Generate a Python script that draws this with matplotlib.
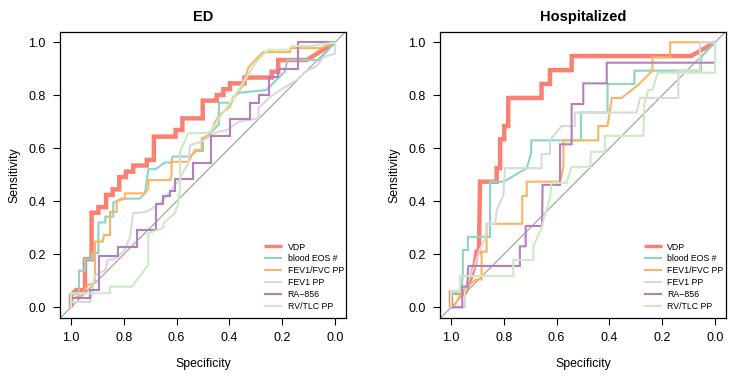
import matplotlib
matplotlib.use("Agg")
import matplotlib.pyplot as plt

plt.rcParams['font.family'] = ['Liberation Sans', 'DejaVu Sans']

SERIES = ["VDP", "blood EOS #", "FEV1/FVC PP", "FEV1 PP", "RA\u2212856", "RV/TLC PP"]
COLORS = ["#FB8072", "#8DD3C7", "#FDB462", "#D9D9D9", "#B57EC0", "#CCEBC5"]
WIDTHS = [3.2, 1.5, 1.5, 1.5, 1.5, 1.5]
TICKS = [1.0, 0.8, 0.6, 0.4, 0.2, 0.0]
TICK_LABELS = ["1.0", "0.8", "0.6", "0.4", "0.2", "0.0"]
YTICKS = [0.0, 0.2, 0.4, 0.6, 0.8, 1.0]

# ---------------- ED panel ----------------
ED_VDP_SPEC = [1.0, 1.0, 0.98, 0.947, 0.947, 0.922, 0.922, 0.896, 0.896, 0.867, 0.867, 0.842, 0.842,
               0.817, 0.817, 0.792, 0.792, 0.764, 0.764, 0.713, 0.713, 0.686, 0.686, 0.604, 0.604,
               0.578, 0.578, 0.501, 0.501, 0.448, 0.448, 0.423, 0.423, 0.398, 0.398, 0.343, 0.343,
               0.240, 0.240, 0.215, 0.215, 0.107, 0.0]
ED_VDP_SENS = [0.0, 0.045, 0.065, 0.065, 0.181, 0.181, 0.357, 0.357, 0.378, 0.378, 0.424, 0.424, 0.445,
               0.445, 0.491, 0.491, 0.512, 0.512, 0.535, 0.535, 0.556, 0.556, 0.644, 0.644, 0.669,
               0.669, 0.713, 0.713, 0.780, 0.780, 0.801, 0.801, 0.823, 0.823, 0.845, 0.845, 0.867,
               0.867, 0.889, 0.889, 0.933, 0.933, 1.0]

ED_EOS_SPEC = [1.0, 1.0, 0.97, 0.97, 0.947, 0.947, 0.92, 0.92, 0.896, 0.896, 0.87, 0.87, 0.84, 0.84,
               0.81, 0.74, 0.72, 0.707, 0.68, 0.645, 0.62, 0.615, 0.55, 0.524, 0.50, 0.50, 0.47, 0.44,
               0.44, 0.395, 0.385, 0.36, 0.26, 0.24, 0.21, 0.19, 0.18, 0.06, 0.0]
ED_EOS_SENS = [0.0, 0.05, 0.05, 0.138, 0.138, 0.181, 0.181, 0.205, 0.205, 0.32, 0.32, 0.342, 0.342,
               0.395, 0.41, 0.41, 0.43, 0.521, 0.521, 0.546, 0.546, 0.569, 0.569, 0.59, 0.59, 0.63,
               0.66, 0.69, 0.772, 0.772, 0.795, 0.81, 0.82, 0.84, 0.87, 0.89, 0.933, 0.933, 1.0]

ED_FVC_SPEC = [1.0, 1.0, 0.96, 0.935, 0.915, 0.909, 0.909, 0.88, 0.875, 0.852, 0.852, 0.827, 0.827,
               0.795, 0.795, 0.777, 0.72, 0.707, 0.707, 0.625, 0.619, 0.619, 0.556, 0.53, 0.505,
               0.505, 0.473, 0.455, 0.43, 0.398, 0.385, 0.347, 0.328, 0.297, 0.272, 0.17, 0.17,
               0.055, 0.0]
ED_FVC_SENS = [0.0, 0.03, 0.046, 0.084, 0.09, 0.10, 0.248, 0.248, 0.273, 0.273, 0.36, 0.36, 0.40,
               0.41, 0.43, 0.43, 0.43, 0.449, 0.48, 0.48, 0.499, 0.549, 0.549, 0.594, 0.594, 0.638,
               0.65, 0.70, 0.732, 0.757, 0.789, 0.839, 0.905, 0.938, 0.963, 0.963, 0.978, 0.978, 1.0]

ED_FEV1_SPEC = [1.0, 1.0, 0.928, 0.92, 0.91, 0.87, 0.86, 0.84, 0.80, 0.776, 0.765, 0.715, 0.682,
                0.65, 0.60, 0.556, 0.549, 0.505, 0.468, 0.442, 0.41, 0.392, 0.366, 0.29, 0.29,
                0.246, 0.208, 0.177, 0.139, 0.114, 0.07, 0.044, 0.0, 0.0]
ED_FEV1_SENS = [0.0, 0.02, 0.02, 0.05, 0.12, 0.14, 0.18, 0.18, 0.21, 0.266, 0.355, 0.36, 0.38,
                0.405, 0.468, 0.543, 0.612, 0.625, 0.65, 0.663, 0.669, 0.681, 0.70, 0.713, 0.751,
                0.794, 0.819, 0.838, 0.863, 0.888, 0.91, 0.944, 0.957, 1.0]

ED_RA_SPEC = [1.0, 1.0, 0.928, 0.928, 0.893, 0.893, 0.82, 0.82, 0.75, 0.75, 0.678, 0.678, 0.65, 0.65,
              0.625, 0.625, 0.606, 0.606, 0.537, 0.537, 0.468, 0.468, 0.398, 0.398, 0.322, 0.322,
              0.287, 0.287, 0.249, 0.249, 0.215, 0.215, 0.141, 0.141, 0.0]
ED_RA_SENS = [0.0, 0.034, 0.034, 0.065, 0.065, 0.194, 0.194, 0.229, 0.229, 0.29, 0.29, 0.39, 0.39,
              0.42, 0.42, 0.44, 0.44, 0.483, 0.483, 0.546, 0.546, 0.647, 0.647, 0.71, 0.71, 0.772,
              0.772, 0.80, 0.80, 0.87, 0.87, 0.90, 0.90, 1.0, 1.0]

ED_RV_SPEC = [1.0, 1.0, 0.852, 0.852, 0.77, 0.707, 0.707, 0.65, 0.65, 0.606, 0.594, 0.587, 0.587,
              0.556, 0.52, 0.473, 0.436, 0.391, 0.334, 0.297, 0.253, 0.177, 0.164, 0.088, 0.0]
ED_RV_SENS = [0.0, 0.053, 0.053, 0.078, 0.078, 0.16, 0.279, 0.30, 0.317, 0.355, 0.392, 0.45, 0.587,
              0.657, 0.657, 0.66, 0.718, 0.781, 0.87, 0.928, 0.972, 0.972, 0.986, 0.986, 1.0]

# ---------------- Hospitalized panel ----------------
HO_VDP_SPEC = [1.0, 1.0, 0.947, 0.937, 0.922, 0.909, 0.903, 0.894, 0.89, 0.827, 0.827, 0.814, 0.814,
               0.798, 0.798, 0.783, 0.783, 0.657, 0.657, 0.625, 0.625, 0.543, 0.543, 0.091, 0.0]
HO_VDP_SENS = [0.0, 0.055, 0.055, 0.08, 0.118, 0.166, 0.21, 0.21, 0.474, 0.474, 0.525, 0.525, 0.634,
               0.634, 0.684, 0.684, 0.79, 0.79, 0.843, 0.843, 0.895, 0.895, 0.948, 0.948, 1.0]

HO_EOS_SPEC = [1.0, 1.0, 0.99, 0.96, 0.955, 0.955, 0.936, 0.936, 0.852, 0.852, 0.80, 0.713, 0.697,
               0.695, 0.508, 0.508, 0.407, 0.407, 0.305, 0.305, 0.053, 0.053, 0.0]
HO_EOS_SENS = [0.0, 0.04, 0.055, 0.055, 0.13, 0.216, 0.216, 0.266, 0.266, 0.474, 0.474, 0.525, 0.58,
               0.63, 0.63, 0.735, 0.735, 0.843, 0.843, 0.893, 0.893, 0.943, 1.0]

HO_FVC_SPEC = [1.0, 0.99, 0.96, 0.935, 0.905, 0.884, 0.884, 0.865, 0.865, 0.73, 0.73, 0.713, 0.713,
               0.587, 0.574, 0.574, 0.442, 0.442, 0.407, 0.391, 0.354, 0.29, 0.237, 0.237, 0.17,
               0.17, 0.0]
HO_FVC_SENS = [0.0, 0.0, 0.055, 0.08, 0.105, 0.105, 0.21, 0.21, 0.315, 0.315, 0.42, 0.42, 0.474,
               0.474, 0.53, 0.63, 0.63, 0.684, 0.684, 0.79, 0.79, 0.84, 0.893, 0.943, 0.943, 1.0,
               1.0]

HO_FEV1_SPEC = [1.0, 1.0, 0.947, 0.947, 0.93, 0.91, 0.89, 0.87, 0.865, 0.833, 0.827, 0.802, 0.795,
                0.657, 0.657, 0.625, 0.625, 0.581, 0.53, 0.53, 0.297, 0.284, 0.139, 0.139, 0.057,
                0.057, 0.0]
HO_FEV1_SENS = [0.0, 0.0, 0.0, 0.059, 0.11, 0.16, 0.22, 0.26, 0.315, 0.315, 0.367, 0.42, 0.525,
                0.525, 0.578, 0.578, 0.63, 0.684, 0.684, 0.735, 0.735, 0.79, 0.79, 0.893, 0.893,
                1.0, 1.0]

HO_RA_SPEC = [1.0, 0.957, 0.957, 0.937, 0.937, 0.934, 0.739, 0.739, 0.717, 0.717, 0.655, 0.653,
              0.587, 0.587, 0.543, 0.543, 0.499, 0.499, 0.41, 0.41, 0.0, 0.0]
HO_RA_SENS = [0.0, 0.0, 0.078, 0.078, 0.116, 0.156, 0.156, 0.23, 0.23, 0.307, 0.307, 0.462, 0.462,
              0.615, 0.615, 0.767, 0.767, 0.845, 0.845, 0.923, 0.923, 1.0]

HO_RV_SPEC = [1.0, 1.0, 0.966, 0.966, 0.764, 0.764, 0.688, 0.688, 0.657, 0.644, 0.625, 0.619, 0.562,
              0.543, 0.473, 0.47, 0.417, 0.417, 0.271, 0.268, 0.253, 0.237, 0.217, 0.0, 0.0]
HO_RV_SENS = [0.0, 0.06, 0.06, 0.118, 0.118, 0.178, 0.178, 0.23, 0.30, 0.35, 0.41, 0.47, 0.47, 0.53,
              0.53, 0.587, 0.587, 0.647, 0.647, 0.763, 0.82, 0.82, 0.885, 0.885, 1.0]

PANELS = [
    ("ED", [(ED_VDP_SPEC, ED_VDP_SENS), (ED_EOS_SPEC, ED_EOS_SENS), (ED_FVC_SPEC, ED_FVC_SENS),
            (ED_FEV1_SPEC, ED_FEV1_SENS), (ED_RA_SPEC, ED_RA_SENS), (ED_RV_SPEC, ED_RV_SENS)]),
    ("Hospitalized", [(HO_VDP_SPEC, HO_VDP_SENS), (HO_EOS_SPEC, HO_EOS_SENS), (HO_FVC_SPEC, HO_FVC_SENS),
                      (HO_FEV1_SPEC, HO_FEV1_SENS), (HO_RA_SPEC, HO_RA_SENS), (HO_RV_SPEC, HO_RV_SENS)]),
]

W, H = 755, 377
fig = plt.figure(figsize=(W / 100, H / 100), dpi=100)
fig.patch.set_facecolor("white")

axes_px = [(60.4, 31.7, 285.2, 286.2), (440.4, 31.7, 285.2, 286.2)]
legend_px = [(264.0, 242.5), (643.5, 242.5)]

for (title, curves), (lx, ty, w, h), (gx, gy) in zip(PANELS, axes_px, legend_px):
    ax = fig.add_axes([lx / W, 1 - (ty + h) / H, w / W, h / H])
    ax.set_xlim(1.04, -0.04)
    ax.set_ylim(-0.04, 1.04)
    ax.axline((1.0, 0.0), (0.0, 1.0), color="#A6A6A6", lw=0.9, zorder=1)
    for name, col, lw, (sp, se) in zip(SERIES, COLORS, WIDTHS, curves):
        ax.plot(sp, se, color=col, lw=lw, label=name, zorder=2,
                solid_joinstyle="miter", solid_capstyle="butt")
    ax.set_xticks(TICKS)
    ax.set_xticklabels(TICK_LABELS)
    ax.set_yticks(YTICKS)
    ax.set_yticklabels(["0.0", "0.2", "0.4", "0.6", "0.8", "1.0"])
    ax.tick_params(axis="both", direction="out", length=5, width=0.8, labelsize=9,
                   colors="black")
    ax.tick_params(axis="x", pad=5.5)
    ax.tick_params(axis="y", pad=5.5)
    for s in ax.spines.values():
        s.set_linewidth(0.9)
        s.set_color("black")
    ax.set_title(title, fontsize=10.5, fontweight="bold", pad=7.5)
    ax.set_xlabel("Specificity", fontsize=8.8, labelpad=10)
    ax.set_ylabel("Sensitivity", fontsize=8.8, labelpad=6)
    leg = ax.legend(loc="upper left", bbox_to_anchor=(gx / W, 1 - gy / H),
                    bbox_transform=fig.transFigure, frameon=False, fontsize=6.3,
                    handlelength=2.1, handletextpad=0.6, labelspacing=0.34,
                    borderpad=0, borderaxespad=0)
    leg.get_lines()[0].set_linewidth(2.4)

fig.savefig("out.png", dpi=100, facecolor="white")
